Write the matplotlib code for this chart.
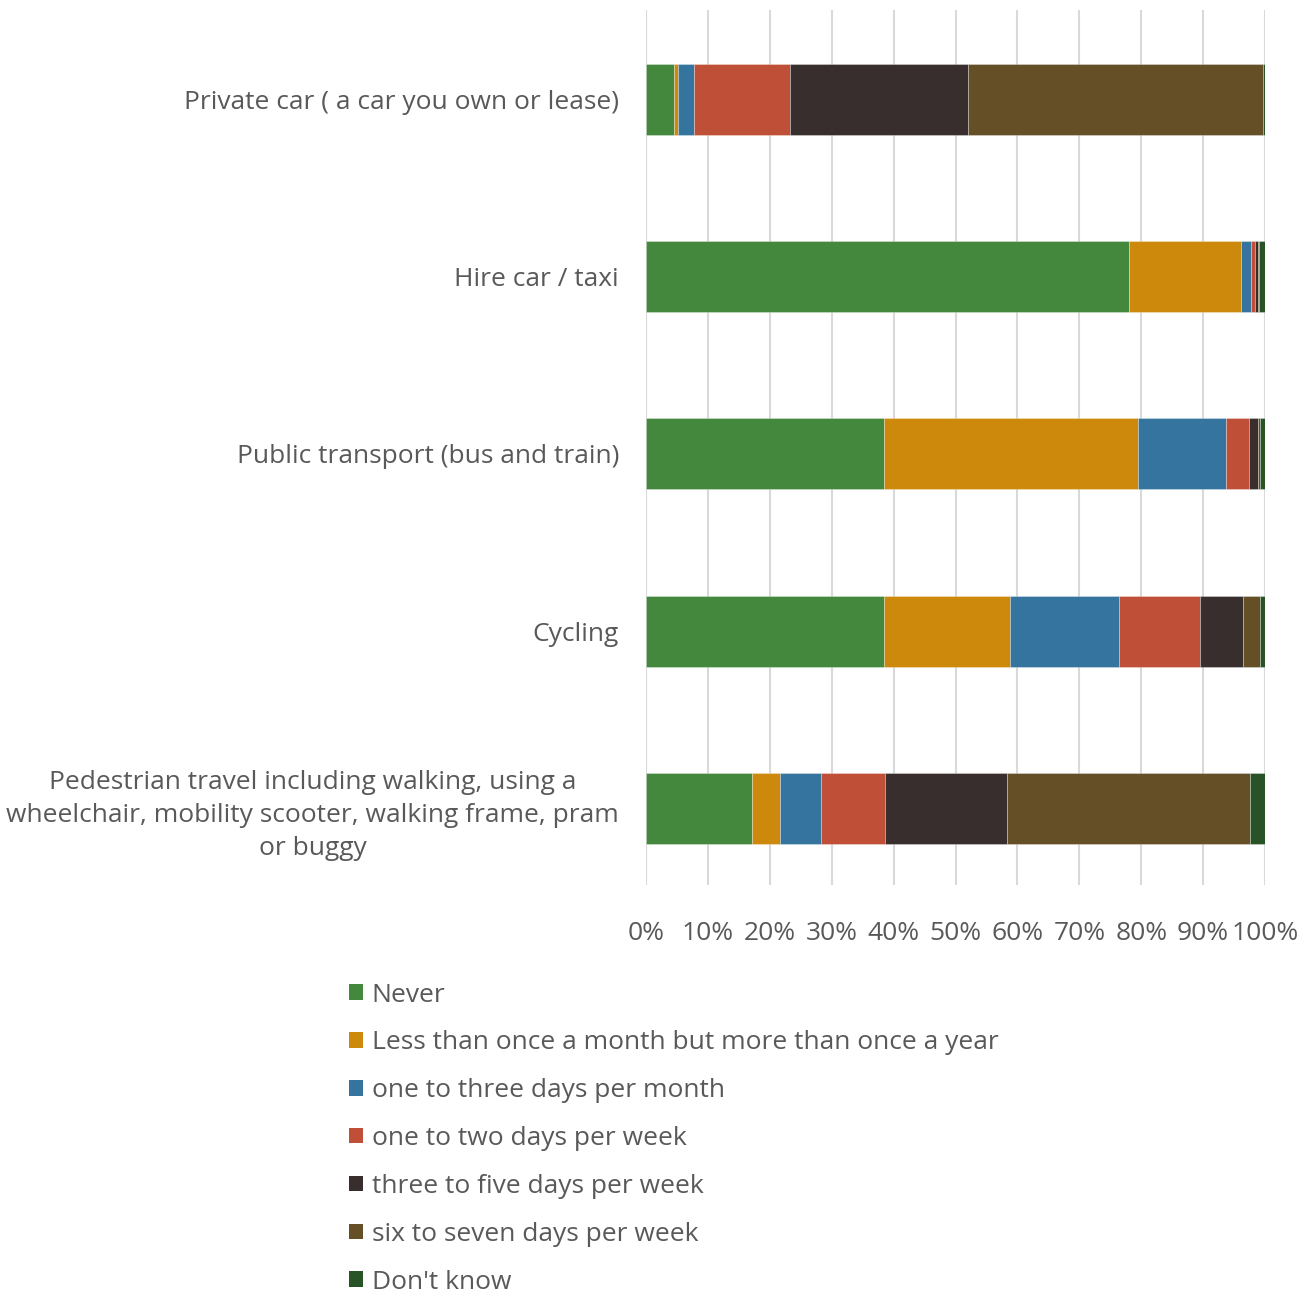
import matplotlib.pyplot as plt
from matplotlib.patches import Patch
import numpy as np

categories = [
    "Private car ( a car you own or lease)",
    "Hire car / taxi",
    "Public transport (bus and train)",
    "Cycling",
    "Pedestrian travel including walking, using a\nwheelchair, mobility scooter, walking frame, pram\nor buggy",
]
series_names = [
    "Never",
    "Less than once a month but more than once a year",
    "one to three days per month",
    "one to two days per week",
    "three to five days per week",
    "six to seven days per week",
    "Don't know",
]
# percentages per category, one list per frequency band
never = [4.6, 78.1, 38.4, 38.4, 17.1]
less_than_monthly = [0.5, 18.0, 41.1, 20.4, 4.6]
one_to_three_month = [2.7, 1.6, 14.2, 17.6, 6.6]
one_to_two_week = [15.5, 0.6, 3.7, 13.1, 10.3]
three_to_five_week = [28.7, 0.6, 1.5, 6.9, 19.7]
six_to_seven_week = [47.6, 0.1, 0.3, 2.7, 39.3]
dont_know = [0.4, 1.0, 0.8, 0.9, 2.4]

series = [never, less_than_monthly, one_to_three_month, one_to_two_week,
          three_to_five_week, six_to_seven_week, dont_know]
colors = ["#43883D", "#CD890C", "#35749F", "#C04F37", "#392E2E", "#644F27", "#285327"]

plt.rcParams['font.family'] = ['Open Sans', 'DejaVu Sans']
text_color = "#595959"
fs = 19

fig = plt.figure(figsize=(13.13, 12.9), dpi=100)
ax = fig.add_axes([0.492, 0.314, 0.4715, 0.678])

y = np.arange(len(categories))
left = np.zeros(len(categories))
for vals, col in zip(series, colors):
    ax.barh(y, vals, left=left, height=0.4, color=col,
            edgecolor=(1, 1, 1, 0.35), linewidth=0.6, zorder=3)
    left += np.array(vals)

ax.set_xlim(0, 100)
ax.set_ylim(4.43, -0.5)
ax.set_xticks(np.arange(0, 101, 10))
ax.set_xticklabels([f"{v}%" for v in range(0, 101, 10)])
ax.set_yticks(y)
ax.set_yticklabels(categories)
for lbl in ax.get_yticklabels():
    lbl.set_multialignment('center')
    lbl.set_linespacing(1.4)

ax.grid(axis='x', color='#D9D9D9', linewidth=1.5, zorder=0)
for s in ax.spines.values():
    s.set_visible(False)
ax.tick_params(axis='both', length=0, colors=text_color, labelsize=fs)
ax.tick_params(axis='x', pad=26)
ax.tick_params(axis='y', pad=19.5)

handles = [Patch(facecolor=c) for c in colors]
fig.legend(handles, series_names, loc='upper left', bbox_to_anchor=(0.258, 0.2465),
           frameon=False, fontsize=fs, labelcolor=text_color,
           handlelength=0.53, handleheight=0.53, handletextpad=0.32,
           labelspacing=0.865, borderaxespad=0)

fig.savefig("out.png", dpi=100)
